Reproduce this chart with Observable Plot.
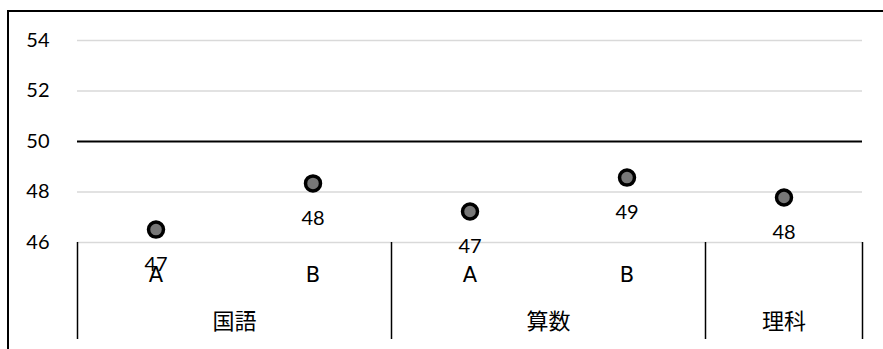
<!DOCTYPE html>
<html>
<head>
<meta charset="utf-8">
<script src="https://cdn.jsdelivr.net/npm/d3@7"></script>
<script src="https://cdn.jsdelivr.net/npm/@observablehq/plot@0.6"></script>
<style>
  html, body { margin: 0; padding: 0; background: #fff; }
  #wrap { position: relative; width: 883px; height: 349px; overflow: hidden; }
  #frame { position: absolute; left: 7px; top: 10px; right: -10px; bottom: -10px;
           border-top: 2px solid #000; border-left: 2px solid #000; pointer-events: none; }
  #chart { position: absolute; left: 0; top: 0; }
</style>
</head>
<body>
<div id="wrap"><div id="chart"></div><div id="frame"></div></div>
<script>
// Data
const groups = ["国語", "国語", "算数", "算数", "理科"];
const subLabels = ["A", "B", "A", "B", ""];
const values = [46.51, 48.34, 47.23, 48.57, 47.78];
const groupNames = ["国語", "算数", "理科"];
const groupSizes = [2, 2, 1];
const yTicks = [46, 48, 50, 52, 54];
const refLine = 50;

const data = values.map((v, i) => ({pos: i + 0.5, value: v, group: groups[i], sub: subLabels[i], label: String(Math.round(v))}));

// group boundaries and centers from sizes
const bounds = [0];
groupSizes.forEach(s => bounds.push(bounds[bounds.length - 1] + s));
const groupCenters = groupSizes.map((s, i) => bounds[i] + s / 2);

const numFont = "Lato, 'Noto Sans', sans-serif";
const latFont = "'DejaVu Sans', sans-serif";
const cjkFont = "'Noto Sans CJK JP', sans-serif";

const chart = Plot.plot({
  width: 883,
  height: 349,
  marginTop: 40,
  marginBottom: 107,
  marginLeft: 77,
  marginRight: 21,
  x: {type: "linear", domain: [0, values.length], axis: null},
  y: {domain: [46, 54], axis: null},
  marks: [
    Plot.gridY(yTicks.filter(t => t !== refLine), {stroke: "#d9d9d9", strokeOpacity: 1, strokeWidth: 1.5}),
    Plot.ruleY([refLine], {stroke: "#000", strokeWidth: 2}),
    Plot.axisY({ticks: yTicks, label: null, tickSize: 0, tickPadding: 28, fontSize: 20, fontFamily: numFont, fill: "#000"}),
    // sub category labels
    Plot.axisX({ticks: data.map(d => d.pos), label: null, tickFormat: (t) => subLabels[Math.floor(t)], tickSize: 0, tickPadding: 25, fontSize: 21, fontFamily: latFont, fill: "#000"}),
    // group separators
    Plot.axisX({ticks: bounds, label: null, tickFormat: () => "", tickSize: 97, strokeWidth: 1.5, stroke: "#000"}),
    // group labels
    Plot.axisX({ticks: groupCenters, label: null, tickFormat: (t, i) => groupNames[i], tickSize: 0, tickPadding: 71, fontSize: 22, fontFamily: cjkFont, fill: "#000"}),
    Plot.dot(data, {x: "pos", y: "value", r: 7.5, fill: "#777", stroke: "#000", strokeWidth: 3.5}),
    Plot.text(data, {x: "pos", y: "value", text: "label", dy: 35, fontSize: 20, fontFamily: numFont, fill: "#000"})
  ]
});
document.getElementById("chart").appendChild(chart);
</script>
</body>
</html>
